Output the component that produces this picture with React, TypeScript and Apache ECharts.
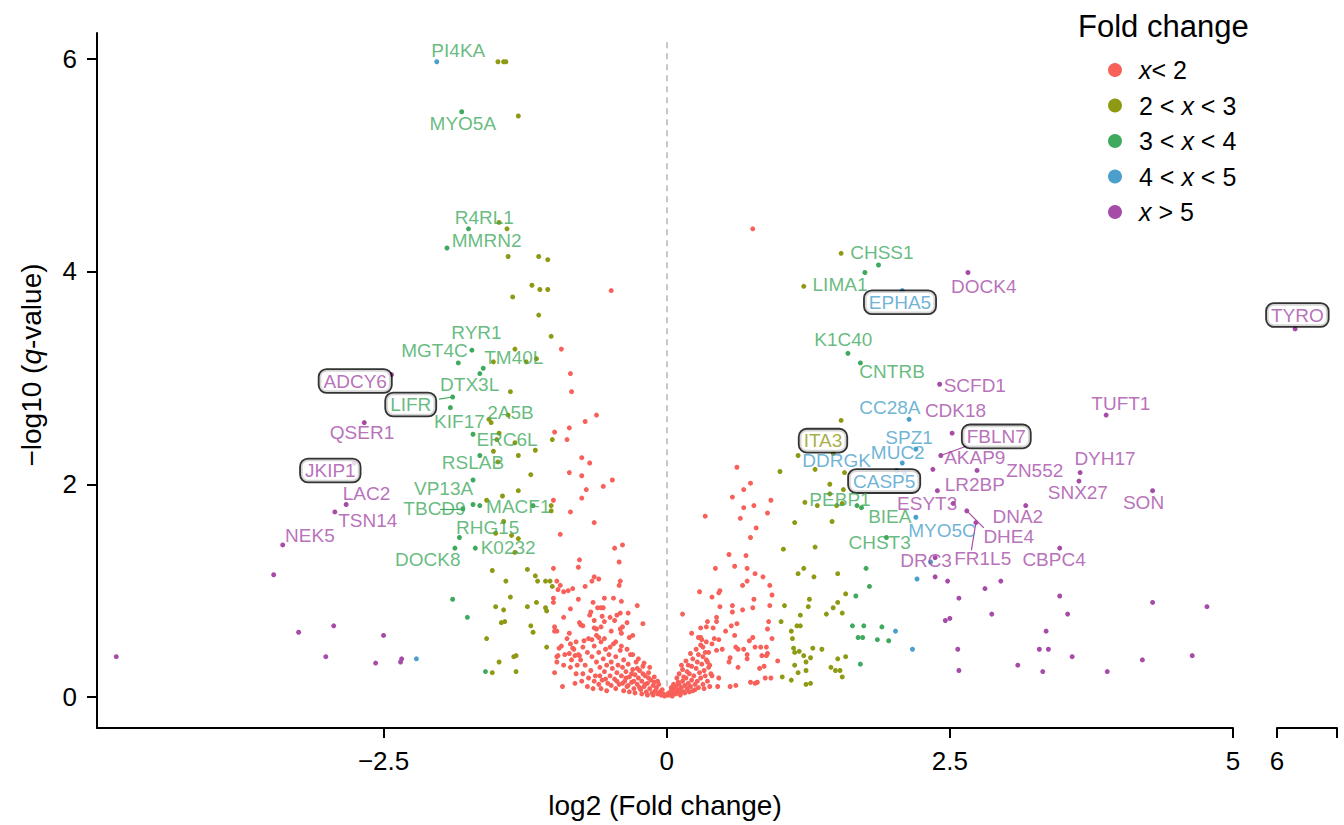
import React, { useEffect, useRef } from "react";
import * as echarts from "echarts";

const FONT = '"Liberation Sans", Arial, Helvetica, sans-serif';
const COLORS = ["#F8605A", "#8F9A14", "#3FAA5E", "#4A9FCB", "#A64CA8"];
const legendLabels = ["{i|x}< 2", "2 < {i|x} < 3", "3 < {i|x} < 4", "4 < {i|x} < 5", "{i|x} > 5"];
const xTicks = [-2.5, 0, 2.5, 5];
const yTicks = [0, 2, 4, 6];

const redPoints: number[][] = [
  [-0.49, 3.82], [0.76, 4.40],
  [-0.85, 3.04], [-0.84, 2.87], [-0.93, 3.27], [-0.62, 2.65], [-0.72, 2.59], [-0.99, 2.49], [-0.86, 2.53], [-0.88, 2.42],
  [-0.75, 2.25], [-0.68, 2.20], [-0.86, 2.11], [-0.75, 2.08], [-0.48, 2.04], [-0.56, 1.98], [-0.71, 1.95], [-0.75, 1.87],
  [-1.00, 1.85], [-0.85, 1.74], [-0.64, 1.64], [-0.94, 1.53], [-0.46, 1.40], [-0.39, 1.43], [-0.77, 1.29], [-0.78, 1.22],
  [-0.42, 1.27], [-1.00, 1.21], [-0.64, 1.13], [-0.66, 1.09], [-0.60, 1.11], [-0.41, 1.09], [-0.42, 1.05], [-0.97, 1.09],
  [-0.94, 1.05], [-0.91, 0.99], [-0.87, 1.00], [-0.83, 1.02], [-0.72, 1.04], [-0.96, 1.01], [-1.00, 0.93], [-1.00, 0.89],
  [-0.78, 0.92], [-0.55, 0.93], [-0.47, 0.93], [-0.40, 0.90], [-0.26, 0.86], [-0.65, 0.89], [-0.56, 0.84], [-0.58, 0.84],
  [-0.61, 0.84], [-0.85, 0.83], [-0.91, 0.75], [-0.67, 0.80], [-0.68, 0.77], [-0.57, 0.76], [-0.50, 0.75], [-0.44, 0.77],
  [-0.41, 0.79], [-0.34, 0.79], [-0.21, 0.69], [-0.77, 0.70], [-0.76, 0.68], [-0.74, 0.67], [-0.99, 0.66], [-0.99, 0.62],
  [-0.97, 0.62], [-0.64, 0.72], [-0.55, 0.71], [-0.46, 0.72], [-0.39, 0.66], [-0.35, 0.70], [-0.64, 0.65], [-0.62, 0.64],
  [-0.58, 0.66], [-0.86, 0.60], [-0.49, 0.62], [-0.41, 0.64], [-0.40, 0.60], [-0.33, 0.56], [-0.30, 0.58], [-0.66, 0.54],
  [-0.73, 0.53], [-0.60, 0.56], [-0.95, 0.46], [-0.97, 0.38], [-0.97, 0.33], [-0.99, 0.23],
  [-0.93, 0.48], [-0.83, 0.46], [-0.86, 0.41], [-0.81, 0.39], [-0.77, 0.39], [-0.96, 0.39], [-0.91, 0.30], [-0.92, 0.10],
  [-0.81, 0.13], [-0.58, 0.08],
  [-0.88, 0.55], [-0.85, 0.50], [-0.82, 0.45], [-0.80, 0.52], [-0.78, 0.40], [-0.76, 0.35], [-0.74, 0.47], [-0.72, 0.30],
  [-0.70, 0.42], [-0.69, 0.55], [-0.67, 0.25], [-0.66, 0.38], [-0.64, 0.48], [-0.63, 0.20], [-0.62, 0.33], [-0.60, 0.42],
  [-0.59, 0.28], [-0.58, 0.52], [-0.57, 0.16], [-0.56, 0.36], [-0.55, 0.24], [-0.54, 0.45], [-0.53, 0.30], [-0.52, 0.13],
  [-0.51, 0.40], [-0.50, 0.20], [-0.49, 0.33], [-0.48, 0.27], [-0.47, 0.50], [-0.46, 0.17], [-0.45, 0.38], [-0.44, 0.23],
  [-0.43, 0.30], [-0.42, 0.12], [-0.41, 0.44], [-0.40, 0.20], [-0.39, 0.28], [-0.38, 0.35], [-0.37, 0.15], [-0.36, 0.24],
  [-0.35, 0.10], [-0.34, 0.31], [-0.33, 0.19], [-0.32, 0.40], [-0.31, 0.14], [-0.30, 0.26], [-0.29, 0.08], [-0.28, 0.21],
  [-0.27, 0.33], [-0.26, 0.12], [-0.25, 0.18], [-0.24, 0.25], [-0.23, 0.07], [-0.22, 0.15], [-0.21, 0.29], [-0.20, 0.10],
  [-0.19, 0.20], [-0.18, 0.05], [-0.17, 0.13], [-0.16, 0.23], [-0.15, 0.08], [-0.14, 0.16], [-0.13, 0.04], [-0.12, 0.11],
  [-0.11, 0.19], [-0.10, 0.06], [-0.09, 0.09], [-0.08, 0.03], [-0.07, 0.12], [-0.06, 0.05], [-0.05, 0.02], [-0.04, 0.07],
  [-0.03, 0.03], [-0.02, 0.01], [-0.01, 0.02],
  [-0.85, 0.28], [-0.80, 0.22], [-0.75, 0.15], [-0.70, 0.10], [-0.65, 0.08], [-0.60, 0.12], [-0.62, 0.58], [-0.55, 0.55],
  [-0.50, 0.47], [-0.45, 0.52], [-0.40, 0.48], [-0.35, 0.45], [-0.30, 0.40], [-0.25, 0.36], [-0.20, 0.32], [-0.15, 0.28],
  [-0.38, 0.06], [-0.33, 0.05], [-0.28, 0.04], [-0.22, 0.03], [-0.17, 0.02], [-0.12, 0.02], [-0.45, 0.08], [-0.53, 0.06],
  [-0.36, 0.18], [-0.31, 0.22], [-0.26, 0.27], [-0.21, 0.22], [-0.16, 0.18], [-0.11, 0.14], [-0.08, 0.15], [-0.19, 0.12],
  [-0.24, 0.09], [-0.29, 0.15], [-0.34, 0.11], [-0.39, 0.13], [-0.44, 0.15], [-0.49, 0.11], [-0.54, 0.17], [-0.59, 0.20],
  [-0.64, 0.15], [-0.69, 0.18], [-0.74, 0.22], [-0.79, 0.30], [-0.84, 0.35], [-0.90, 0.40],
  [0.62, 2.16], [0.74, 2.01], [0.68, 1.95], [0.58, 1.88], [0.92, 1.85], [0.77, 1.80], [0.68, 1.78], [0.89, 1.73],
  [0.65, 1.68], [0.34, 1.70], [0.79, 1.59], [0.74, 1.50], [0.55, 1.34], [0.70, 1.33], [0.60, 1.23], [0.43, 1.21],
  [0.71, 1.21], [0.78, 1.16], [0.85, 1.13], [0.71, 1.09], [0.67, 1.05], [0.91, 1.05], [0.47, 1.00], [0.46, 0.98],
  [0.29, 0.99], [0.40, 0.94], [0.93, 0.96], [0.77, 0.92], [0.47, 0.85], [0.58, 0.86], [0.58, 0.80], [0.67, 0.82],
  [0.76, 0.84], [0.91, 0.86], [0.14, 0.78], [0.44, 0.75], [0.44, 0.71], [0.62, 0.69], [0.57, 0.67], [0.36, 0.71],
  [0.90, 0.71], [0.30, 0.65], [0.35, 0.66], [0.41, 0.65], [0.52, 0.62], [0.22, 0.60], [0.89, 0.64], [0.60, 0.58],
  [0.28, 0.56], [0.30, 0.56], [0.31, 0.54], [0.42, 0.55], [0.46, 0.54], [0.40, 0.50], [0.76, 0.56], [0.73, 0.53],
  [0.93, 0.55], [0.61, 0.47], [0.63, 0.45], [0.68, 0.45], [0.78, 0.47], [0.83, 0.47], [0.88, 0.47], [0.32, 0.47],
  [0.34, 0.42], [0.49, 0.45], [0.44, 0.44], [0.71, 0.40], [0.71, 0.36], [0.84, 0.39], [0.88, 0.39], [0.89, 0.41],
  [0.98, 0.34], [0.63, 0.28], [0.82, 0.27], [0.86, 0.29], [0.56, 0.37], [0.55, 0.33], [0.87, 0.18], [0.92, 0.18],
  [0.74, 0.14], [0.78, 0.13], [0.80, 0.14], [0.56, 0.10], [0.61, 0.11], [0.45, 0.10], [0.46, 0.18],
  [0.01, 0.02], [0.02, 0.04], [0.03, 0.02], [0.04, 0.06], [0.05, 0.03], [0.06, 0.08], [0.07, 0.05], [0.08, 0.10],
  [0.09, 0.04], [0.10, 0.07], [0.11, 0.12], [0.12, 0.06], [0.13, 0.09], [0.14, 0.15], [0.15, 0.05], [0.16, 0.11],
  [0.17, 0.18], [0.18, 0.08], [0.19, 0.13], [0.20, 0.22], [0.21, 0.10], [0.22, 0.16], [0.23, 0.06], [0.24, 0.20],
  [0.25, 0.12], [0.26, 0.27], [0.27, 0.15], [0.28, 0.09], [0.29, 0.23], [0.30, 0.18], [0.31, 0.31], [0.32, 0.12],
  [0.33, 0.25], [0.34, 0.20], [0.35, 0.35], [0.36, 0.15], [0.37, 0.28], [0.38, 0.10], [0.39, 0.22], [0.05, 0.01],
  [0.08, 0.03], [0.12, 0.02], [0.16, 0.04], [0.20, 0.05], [0.25, 0.07], [0.10, 0.14], [0.15, 0.19], [0.18, 0.24],
  [0.22, 0.29], [0.27, 0.33], [0.32, 0.38], [0.37, 0.42], [0.28, 0.40], [0.23, 0.36], [0.19, 0.30], [0.14, 0.26],
  [0.09, 0.18], [0.06, 0.12], [0.04, 0.09], [0.11, 0.22], [0.13, 0.30], [0.17, 0.34], [0.21, 0.41], [0.26, 0.45],
  [0.30, 0.49], [0.35, 0.52], [0.38, 0.30], [0.40, 0.20], [0.33, 0.08], [0.36, 0.33],
];

const olivePoints: number[][] = [
  [-1.49, 5.97], [-1.44, 5.97], [-1.42, 5.97], [-1.31, 5.46], [-1.48, 4.46], [-1.41, 4.40], [-1.40, 4.14], [-1.13, 4.14],
  [-1.05, 4.11], [-1.19, 3.87], [-1.12, 3.83], [-1.05, 3.83], [-1.36, 3.76], [-1.13, 3.59], [-1.02, 3.39], [-1.34, 3.27],
  [-1.53, 3.15], [-1.24, 3.15], [-1.15, 3.18], [-1.38, 2.87], [-1.57, 2.61], [-1.55, 2.58], [-1.40, 2.65], [-1.01, 2.42],
  [-1.48, 2.48], [-1.50, 2.42], [-1.34, 2.39], [-1.53, 2.31], [-1.31, 2.27], [-1.16, 2.32], [-1.49, 2.21], [-1.20, 2.09],
  [-1.31, 1.94], [-1.45, 1.89], [-1.59, 1.85], [-1.02, 1.80], [-1.02, 1.75], [-1.44, 1.65], [-1.51, 1.54], [-1.37, 1.52],
  [-1.31, 1.49], [-1.34, 1.36], [-1.54, 1.19], [-1.23, 1.20], [-1.16, 1.14], [-1.14, 1.09], [-1.07, 1.09], [-1.03, 1.09],
  [-1.01, 1.04], [-1.42, 1.09], [-1.38, 0.94], [-1.51, 0.85], [-1.44, 0.82], [-1.23, 0.85], [-1.15, 0.89], [-1.07, 0.84],
  [-1.06, 0.81], [-1.46, 0.70], [-1.43, 0.71], [-1.20, 0.67], [-1.18, 0.61], [-1.59, 0.55], [-1.06, 0.47], [-1.33, 0.39],
  [-1.35, 0.38], [-1.48, 0.33], [-1.54, 0.23], [-1.33, 0.24],
  [1.54, 4.17], [1.21, 3.86], [1.54, 2.60], [1.16, 2.27], [1.47, 2.29], [1.00, 2.12], [1.31, 2.14], [1.57, 2.11],
  [1.44, 2.00], [1.56, 1.95], [1.44, 1.91], [1.22, 1.83], [1.33, 1.80], [1.50, 1.80], [1.55, 1.82], [1.13, 1.64],
  [1.46, 1.65], [1.03, 1.39], [1.31, 1.41], [1.21, 1.21], [1.16, 1.16], [1.30, 1.13], [1.51, 1.16], [1.58, 0.97],
  [1.26, 0.92], [1.25, 0.85], [1.51, 0.89], [1.04, 0.86], [1.47, 0.84], [1.55, 0.79], [1.41, 0.78], [1.18, 0.77],
  [1.01, 0.71], [1.15, 0.67], [1.18, 0.67], [1.10, 0.62], [1.11, 0.55], [1.12, 0.46], [1.13, 0.42], [1.17, 0.43],
  [1.21, 0.39], [1.29, 0.46], [1.37, 0.45], [1.27, 0.37], [1.23, 0.33], [1.51, 0.36], [1.58, 0.38], [1.13, 0.30],
  [1.23, 0.25], [1.16, 0.23], [1.45, 0.28], [1.49, 0.25], [1.53, 0.25], [1.02, 0.19], [1.10, 0.16], [1.55, 0.19],
  [1.23, 0.12], [1.27, 0.13],
];

const greenPoints: number[][] = [
  [-1.81, 5.50], [-1.75, 4.40], [-1.94, 4.22], [-1.72, 3.26], [-1.84, 3.14], [-1.62, 3.09], [-1.65, 3.04], [-1.89, 2.82],
  [-1.91, 2.72], [-1.71, 2.47], [-1.65, 2.27], [-1.71, 2.04], [-1.71, 1.81], [-1.65, 1.80], [-1.80, 1.77], [-1.18, 1.80],
  [-1.83, 1.50], [-1.69, 1.40], [-1.87, 1.40], [-1.89, 0.92], [-1.76, 0.75], [-1.60, 0.24],
  [1.87, 4.06], [1.75, 3.99], [1.60, 3.23], [1.71, 3.14], [1.68, 1.80], [1.72, 1.78], [1.94, 1.50], [1.76, 1.21],
  [1.79, 1.04], [1.67, 0.95], [1.64, 0.67], [1.74, 0.67], [1.90, 0.66], [1.69, 0.56], [1.73, 0.56], [1.86, 0.54],
  [1.96, 0.53], [1.71, 0.31],
];

const bluePoints: number[][] = [
  [-2.03, 5.97], [-2.21, 0.36], [2.08, 3.82], [2.14, 2.61], [2.20, 2.33], [2.08, 2.20], [2.03, 2.13], [2.10, 2.11],
  [2.20, 1.69], [2.33, 1.27], [2.21, 1.11], [2.02, 0.62], [2.17, 0.45],
];

const purplePoints: number[][] = [
  [-2.43, 3.03], [-2.67, 2.58], [-2.76, 2.20], [-2.83, 1.81], [-2.93, 1.74], [-3.39, 1.43], [-3.47, 1.15], [-3.25, 0.61],
  [-2.94, 0.67], [-2.50, 0.58], [-4.86, 0.38], [-3.01, 0.38], [-2.57, 0.32], [-2.35, 0.33], [-2.34, 0.36],
  [2.66, 3.99], [2.41, 2.94], [3.88, 2.65], [2.52, 2.48], [2.42, 2.27], [2.35, 2.14], [2.74, 2.13], [3.65, 2.11],
  [3.64, 2.03], [4.29, 1.94], [2.39, 1.94], [2.53, 1.82], [3.17, 1.80], [2.65, 1.75], [2.73, 1.64], [2.37, 1.31],
  [3.47, 1.40], [2.37, 1.13], [2.48, 1.09], [2.58, 0.93], [2.81, 1.02], [2.95, 1.09], [3.47, 0.95], [3.54, 0.78],
  [2.87, 0.78], [2.46, 0.72], [2.50, 0.74], [3.35, 0.62], [2.57, 0.45], [3.29, 0.45], [3.37, 0.45], [3.58, 0.38],
  [3.10, 0.30], [2.58, 0.25], [3.32, 0.24], [3.89, 0.24], [4.20, 0.35], [4.29, 0.89], [4.64, 0.39], [4.77, 0.85],
];

const purpleBreakPoints: number[][] = [[6.16, 3.46]];

const geneNames = [
  "PI4KA", "MYO5A", "R4RL1", "MMRN2", "RYR1", "MGT4C", "TM40L", "ADCY6", "DTX3L", "LIFR", "2A5B", "KIF17", "QSER1",
  "ERC6L", "RSLAB", "JKIP1", "VP13A", "LAC2", "TBCD9", "MACF1", "TSN14", "RHG15", "NEK5", "K0232", "DOCK8",
  "CHSS1", "LIMA1", "EPHA5", "DOCK4", "K1C40", "CNTRB", "SCFD1", "TUFT1", "CC28A", "CDK18", "FBLN7", "ITA3", "SPZ1",
  "MUC2", "AKAP9", "DYH17", "DDRGK", "ZN552", "CASP5", "LR2BP", "SNX27", "PEBP1", "SON", "ESYT3", "BIEA", "DNA2",
  "MYO5C", "DHE4", "CHST3", "FR1L5", "DRC3", "CBPC4", "TYRO",
];
const geneX = [
  -1.84, -1.80, -1.61, -1.59, -1.68, -2.05, -1.35, -2.75, -1.74, -2.26, -1.38, -1.83, -2.69,
  -1.41, -1.71, -2.97, -1.97, -2.65, -2.05, -1.31, -2.64, -1.58, -3.15, -1.40, -2.11,
  1.90, 1.53, 2.06, 2.80, 1.56, 1.99, 2.72, 4.01, 1.97, 2.55, 2.91, 1.38, 2.14,
  2.04, 2.72, 3.87, 1.50, 3.25, 1.92, 2.72, 3.63, 1.53, 4.21, 2.30, 1.97, 3.10,
  2.43, 3.02, 1.88, 2.79, 2.29, 3.42, 6.18,
];
const geneY = [
  6.08, 5.39, 4.51, 4.29, 3.43, 3.26, 3.19, 2.97, 2.94, 2.75, 2.67, 2.59, 2.49,
  2.42, 2.20, 2.13, 1.96, 1.91, 1.77, 1.79, 1.66, 1.59, 1.52, 1.41, 1.29,
  4.18, 3.88, 3.71, 3.86, 3.36, 3.06, 2.93, 2.76, 2.72, 2.69, 2.45, 2.41, 2.44,
  2.30, 2.25, 2.24, 2.22, 2.13, 2.03, 2.00, 1.92, 1.86, 1.83, 1.82, 1.70, 1.70,
  1.57, 1.51, 1.45, 1.30, 1.28, 1.29, 3.59,
];
// colour category of each label text
const geneCat = [
  2, 2, 2, 2, 2, 2, 2, 4, 2, 2, 2, 2, 4,
  2, 2, 4, 2, 4, 2, 2, 4, 2, 4, 2, 2,
  2, 2, 3, 4, 2, 2, 4, 4, 3, 4, 4, 1, 3,
  3, 4, 4, 3, 4, 3, 4, 4, 2, 4, 4, 2, 4,
  3, 4, 2, 4, 4, 4, 4,
];
const boxedGenes = ["ADCY6", "LIFR", "JKIP1", "EPHA5", "ITA3", "CASP5", "FBLN7", "TYRO"];
const breakGenes = ["TYRO"];

// leader segments: [x1, y1, x2, y2] and colour category
const leaderSegments: number[][] = [
  [-2.01, 2.80, -1.89, 2.82],
  [-2.00, 1.77, -1.80, 1.77],
  [2.65, 2.36, 2.42, 2.27],
  [2.65, 1.75, 2.80, 1.59],
  [2.73, 1.64, 2.69, 1.38],
];
const leaderCat = [2, 2, 4, 4, 4];

export default function App() {
  const ref = useRef<HTMLDivElement>(null);
  useEffect(() => {
    if (!ref.current) return;
    const chart = echarts.init(ref.current, null, { renderer: "svg" });

    const fmt = (v: number) => (v < 0 ? "\u2212" + Math.abs(v) : String(v));
    const axisCommon = {
      type: "value",
      splitLine: { show: false },
      axisLine: { show: true, onZero: false, lineStyle: { color: "#000", width: 2 } },
    };

    const mkLabelData = (useBreak: boolean) =>
      geneNames
        .map((n, i) => ({ n, i }))
        .filter(({ n }) => breakGenes.includes(n) === useBreak)
        .map(({ n, i }) => {
          const boxed = boxedGenes.includes(n);
          return {
            name: n,
            value: [geneX[i], geneY[i]],
            label: boxed
              ? {
                  color: COLORS[geneCat[i]],
                  backgroundColor: "#fff",
                  borderColor: "#000",
                  borderWidth: 1.8,
                  borderRadius: 7,
                  padding: [2, 4, 1, 4],
                }
              : { color: COLORS[geneCat[i]] },
          };
        });

    const labelSeriesBase = {
      type: "scatter",
      symbolSize: 0.1,
      itemStyle: { color: "transparent" },
      z: 6,
      silent: true,
      label: {
        show: true,
        position: "inside",
        formatter: "{b}",
        fontSize: 19,
        fontFamily: FONT,
      },
    };

    const pointSeries = (data: number[][], color: string, xi = 0) => ({
      type: "scatter",
      xAxisIndex: xi,
      yAxisIndex: xi,
      data,
      symbolSize: 5,
      itemStyle: { color, opacity: 1 },
      z: 3,
      silent: true,
    });

    const option: any = {
      animation: false,
      backgroundColor: "#fff",
      textStyle: { fontFamily: FONT },
      grid: [
        { left: 97, top: 33, width: 1136, height: 695 },
        { left: 1277, top: 33, width: 60, height: 695 },
      ],
      xAxis: [
        {
          ...axisCommon,
          gridIndex: 0,
          min: -5.03,
          max: 5,
          axisTick: { show: true, length: 10, lineStyle: { color: "#000", width: 2 }, customValues: xTicks },
          axisLabel: { customValues: xTicks, formatter: fmt, fontSize: 26, color: "#000", margin: 20, fontFamily: FONT },
        },
        {
          ...axisCommon,
          gridIndex: 1,
          min: 6,
          max: 6.53,
          axisTick: { show: true, length: 10, lineStyle: { color: "#000", width: 2 }, customValues: [6, 6.53] },
          axisLabel: { customValues: [6], formatter: fmt, fontSize: 26, color: "#000", margin: 20, fontFamily: FONT },
        },
      ],
      yAxis: [
        {
          ...axisCommon,
          gridIndex: 0,
          min: -0.29,
          max: 6.24,
          axisTick: { show: true, length: 10, lineStyle: { color: "#000", width: 2 }, customValues: yTicks },
          axisLabel: { customValues: yTicks, fontSize: 26, color: "#000", margin: 20, fontFamily: FONT },
        },
        { type: "value", gridIndex: 1, min: -0.29, max: 6.24, show: false },
      ],
      series: [
        {
          type: "lines",
          coordinateSystem: "cartesian2d",
          xAxisIndex: 0,
          yAxisIndex: 0,
          z: 1,
          silent: true,
          lineStyle: { color: "#b5b5b5", width: 1.5, type: [6, 5], opacity: 1 },
          data: [{ coords: [[0, 0], [0, 6.16]] }],
        },
        pointSeries(redPoints, COLORS[0]),
        pointSeries(olivePoints, COLORS[1]),
        pointSeries(greenPoints, COLORS[2]),
        pointSeries(bluePoints, COLORS[3]),
        pointSeries(purplePoints, COLORS[4]),
        pointSeries(purpleBreakPoints, COLORS[4], 1),
        {
          type: "lines",
          coordinateSystem: "cartesian2d",
          xAxisIndex: 0,
          yAxisIndex: 0,
          z: 4,
          silent: true,
          data: leaderSegments.map((s, i) => ({
            coords: [[s[0], s[1]], [s[2], s[3]]],
            lineStyle: { color: COLORS[leaderCat[i]], width: 1.2, opacity: 1 },
          })),
        },
        { ...labelSeriesBase, xAxisIndex: 0, yAxisIndex: 0, data: mkLabelData(false) },
        { ...labelSeriesBase, xAxisIndex: 1, yAxisIndex: 1, data: mkLabelData(true) },
      ],
      graphic: [
        {
          type: "text",
          x: 1078,
          y: 26,
          style: { text: "Fold change", fontSize: 31, fontFamily: FONT, fill: "#000", verticalAlign: "middle" },
        },
        ...legendLabels.flatMap((t, i) => {
          const cy = 70 + i * 35.5;
          return [
            { type: "circle", shape: { cx: 1115, cy, r: 7 }, style: { fill: COLORS[i] } },
            {
              type: "text",
              x: 1139,
              y: cy,
              style: {
                text: t,
                fontSize: 25,
                fontFamily: FONT,
                fill: "#000",
                verticalAlign: "middle",
                rich: { i: { fontStyle: "italic", fontSize: 25, fontFamily: FONT, fill: "#000" } },
              },
            },
          ];
        }),
        {
          type: "text",
          x: 665,
          y: 805,
          style: {
            text: "log2 (Fold change)",
            fontSize: 28,
            fontFamily: FONT,
            fill: "#000",
            align: "center",
            verticalAlign: "middle",
          },
        },
        {
          type: "text",
          x: 31,
          y: 365,
          rotation: Math.PI / 2,
          style: {
            text: "\u2212log10 ({i|q}-value)",
            fontSize: 28,
            fontFamily: FONT,
            fill: "#000",
            align: "center",
            verticalAlign: "middle",
            rich: { i: { fontStyle: "italic", fontSize: 28, fontFamily: FONT, fill: "#000" } },
          },
        },
      ],
    };
    chart.setOption(option);
    return () => chart.dispose();
  }, []);
  return (
    <div
      ref={ref}
      style={{ position: "fixed", left: 0, top: 0, width: 1344, height: 825, background: "#fff" }}
    />
  );
}
